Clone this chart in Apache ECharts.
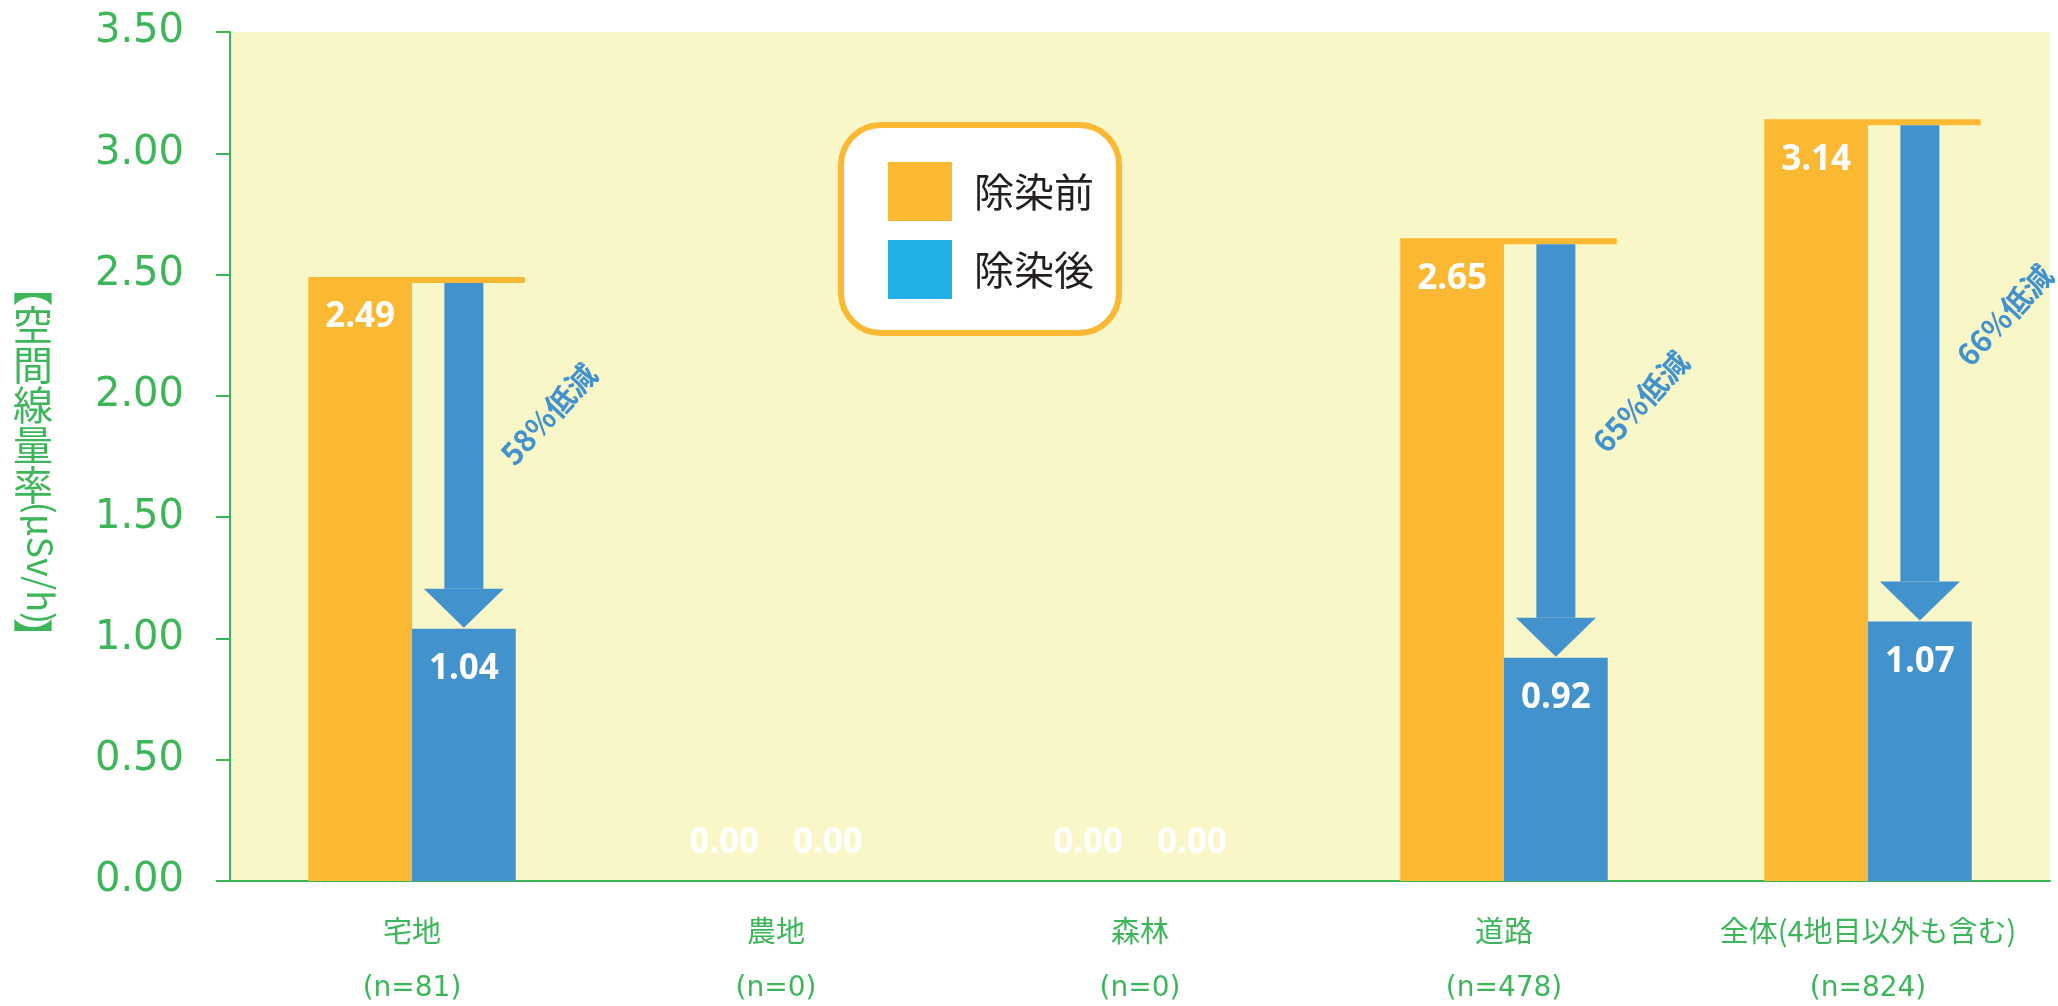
<!DOCTYPE html>
<html>
<head>
<meta charset="utf-8">
<title>除染前後の空間線量率</title>
<script src="https://cdn.jsdelivr.net/npm/echarts@6/dist/echarts.min.js"></script>
<style>
html, body { margin: 0; padding: 0; background: #fff; }
#chart { width: 2058px; height: 1006px; }
</style>
</head>
<body>
<div id="chart"></div>
<script>
// 地目別 除染前後
const categories = ['宅地', '農地', '森林', '道路', '全体(4地目以外も含む)'];
const sampleCounts = [81, 0, 0, 478, 824];
const beforeValues = [2.49, 0, 0, 2.65, 3.14];
const afterValues = [1.04, 0, 0, 0.92, 1.07];
const yMin = 0, yMax = 3.5, yStep = 0.5;

const ORANGE = '#FBB833';
const BLUE = '#4292CE';
const LEGEND_BLUE = '#21B1E6';
const GREEN = '#3DB65A';
const CAT_GAP = 0.43;

// 0の棒はラベルを軸の上に出す
function barData(values) {
    return values.map(function (v) {
        if (v === 0) {
            return { value: v, label: { position: 'top', distance: 20 } };
        }
        return v;
    });
}

// 低減の矢印
function renderArrow(params, api) {
    const i = api.value(0);
    const before = api.value(1);
    const after = api.value(2);
    if (!before) return null;
    const center = api.coord([i, 0])[0];
    const band = api.size([1, 0])[0];
    const bw = band * (1 - CAT_GAP) / 2;
    const yTop = api.coord([i, before])[1];
    const yEnd = api.coord([i, after])[1];
    const ax = center + bw / 2;
    const pct = Math.round((1 - after / before) * 100);
    return {
        type: 'group',
        children: [
            {
                type: 'rect',
                shape: { x: center, y: yTop, width: bw + 9, height: 6 },
                style: { fill: ORANGE }
            },
            {
                type: 'rect',
                shape: { x: ax - 19.5, y: yTop + 6, width: 39, height: (yEnd - 40) - (yTop + 6) },
                style: { fill: BLUE }
            },
            {
                type: 'polygon',
                shape: { points: [[ax - 40, yEnd - 40], [ax + 40, yEnd - 40], [ax, yEnd - 1]] },
                style: { fill: BLUE }
            },
            {
                type: 'text',
                x: center + bw + 33,
                y: yTop + 0.39 * (yEnd - yTop),
                rotation: 47 * Math.PI / 180,
                style: {
                    text: pct + '%低減',
                    fill: BLUE,
                    fontSize: 30,
                    fontWeight: 'bold',
                    fontFamily: 'Noto Sans CJK JP',
                    align: 'center',
                    verticalAlign: 'middle'
                }
            }
        ]
    };
}

const chart = echarts.init(document.getElementById('chart'));

const option = {
    animation: false,
    grid: {
        left: 230, right: 8, top: 32, bottom: 125,
        show: true,
        backgroundColor: '#F9F7C8',
        borderWidth: 0,
        outerBoundsMode: 'none'
    },
    legend: {
        orient: 'vertical',
        left: 841,
        top: 125,
        selectedMode: false,
        icon: 'rect',
        itemWidth: 64,
        itemHeight: 59,
        itemGap: 19,
        backgroundColor: '#fff',
        borderColor: ORANGE,
        borderWidth: 6,
        borderRadius: 40,
        padding: [37, 25, 34, 47],
        data: [
            { name: '除染前', itemStyle: { color: ORANGE } },
            { name: '除染後', itemStyle: { color: LEGEND_BLUE } }
        ],
        textStyle: {
            fontSize: 40,
            color: '#231F20',
            fontFamily: 'Noto Sans CJK JP',
            padding: [0, 0, 0, 17]
        }
    },
    xAxis: {
        type: 'category',
        data: categories,
        axisLine: { lineStyle: { color: GREEN, width: 2 } },
        axisTick: { length: 12, lineStyle: { color: GREEN, width: 2 } },
        axisLabel: {
            margin: 21,
            interval: 0,
            formatter: function (v, idx) {
                return '{a|' + v + '}\n{b|(n=' + sampleCounts[idx] + ')}';
            },
            rich: {
                a: { fontSize: 29, lineHeight: 58, color: GREEN, fontFamily: 'Noto Sans CJK JP' },
                b: { fontSize: 28, lineHeight: 58, color: GREEN, fontFamily: 'DejaVu Sans' }
            }
        }
    },
    yAxis: {
        type: 'value',
        min: yMin,
        max: yMax,
        interval: yStep,
        splitLine: { show: false },
        axisLine: { show: true, lineStyle: { color: GREEN, width: 2 } },
        axisTick: { show: true, length: 14, lineStyle: { color: GREEN, width: 2 } },
        axisLabel: {
            margin: 46,
            color: GREEN,
            fontSize: 40,
            fontFamily: 'DejaVu Sans',
            padding: [0, 0, 12, 0],
            formatter: function (v) { return v.toFixed(2); }
        }
    },
    // 縦書きの軸名
    graphic: [
        {
            type: 'text', x: 33, y: 266,
            style: {
                text: '︻',
                fontSize: 40, lineHeight: 40, fill: GREEN,
                fontFamily: 'Noto Sans CJK JP',
                align: 'center', verticalAlign: 'top'
            }
        },
        {
            type: 'text', x: 33, y: 305,
            style: {
                text: '空\n間\n線\n量\n率',
                fontSize: 40, lineHeight: 40, fill: GREEN,
                fontFamily: 'Noto Sans CJK JP',
                align: 'center', verticalAlign: 'top'
            }
        },
        {
            type: 'text', x: 41, y: 563, rotation: -Math.PI / 2,
            style: {
                text: '(μSv/h)',
                fontSize: 36, fill: GREEN,
                fontFamily: 'Noto Sans CJK JP',
                align: 'center', verticalAlign: 'middle'
            }
        },
        {
            type: 'text', x: 33, y: 618,
            style: {
                text: '︼',
                fontSize: 40, lineHeight: 40, fill: GREEN,
                fontFamily: 'Noto Sans CJK JP',
                align: 'center', verticalAlign: 'top'
            }
        }
    ],
    series: [
        {
            name: '除染前',
            type: 'bar',
            data: barData(beforeValues),
            barGap: '0%',
            barCategoryGap: (CAT_GAP * 100) + '%',
            itemStyle: { color: ORANGE },
            label: {
                show: true,
                position: 'insideTop',
                distance: 23,
                color: '#fff',
                fontSize: 35,
                fontWeight: 'bold',
                fontFamily: 'Noto Sans',
                formatter: function (p) { return p.value.toFixed(2); }
            }
        },
        {
            name: '除染後',
            type: 'bar',
            data: barData(afterValues),
            barGap: '0%',
            barCategoryGap: (CAT_GAP * 100) + '%',
            itemStyle: { color: BLUE },
            label: {
                show: true,
                position: 'insideTop',
                distance: 23,
                color: '#fff',
                fontSize: 35,
                fontWeight: 'bold',
                fontFamily: 'Noto Sans',
                formatter: function (p) { return p.value.toFixed(2); }
            }
        },
        {
            name: '低減',
            type: 'custom',
            clip: false,
            z: 3,
            renderItem: renderArrow,
            encode: { x: 0, y: [1, 2] },
            data: categories.map(function (c, i) { return [i, beforeValues[i], afterValues[i]]; })
        }
    ]
};

chart.setOption(option);
</script>
</body>
</html>
